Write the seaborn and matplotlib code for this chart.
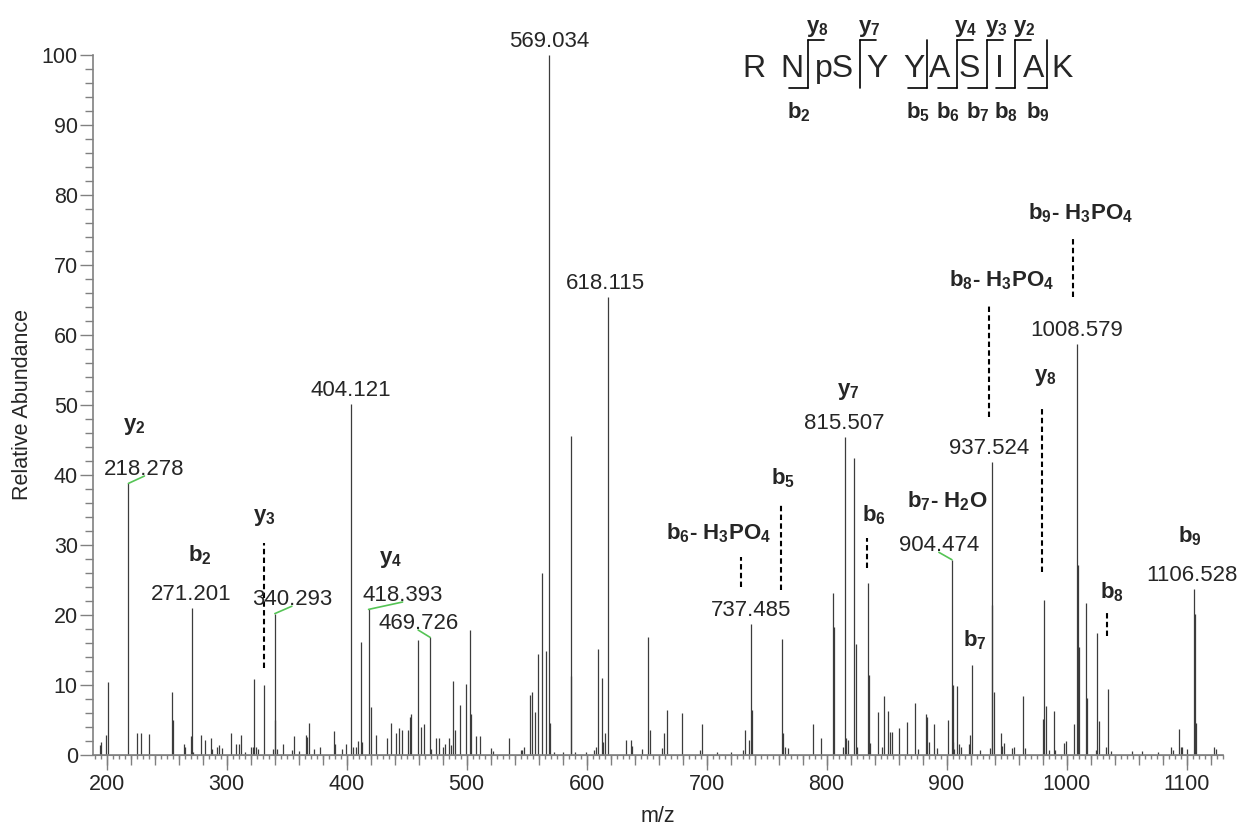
import numpy as np
import pandas as pd
import matplotlib
matplotlib.use('Agg')
import matplotlib.pyplot as plt
import matplotlib.transforms as mtransforms
from matplotlib.lines import Line2D
from matplotlib.ticker import MultipleLocator
import seaborn as sns

# centroided peak list
mz = [194.2, 195.6, 199.2, 201.1, 218.278, 225.5, 228.8, 235.8, 254.4, 255.6,
      264.2, 265.0, 270.2, 271.201, 272.0, 278.5, 282.0, 287.3, 287.8, 292.0,
      293.7, 296.0, 304.0, 307.6, 310.4, 311.8, 315.1, 320.4, 322.0, 323.2,
      324.9, 326.2, 331.2, 338.75, 340.293, 340.7, 342.1, 347.1, 354.3, 356.0,
      360.4, 366.0, 367.4, 368.8, 373.0, 378.2, 389.3, 390.7, 396.5, 399.9,
      404.121, 405.4, 408.2, 409.6, 411.8, 413.2, 418.393, 420.7, 424.3, 434.0,
      437.3, 441.5, 443.7, 446.5, 451.2, 452.7, 453.5, 459.8, 461.8, 464.6,
      469.726, 470.2, 474.3, 476.8, 480.4, 481.8, 485.4, 486.8, 488.8, 490.2,
      494.3, 499.3, 502.6, 504.0, 508.2, 511.5, 520.2, 522.0, 535.4, 545.6,
      546.4, 548.3, 552.8, 554.2, 557.1, 559.3, 562.7, 566.0, 569.034, 569.6,
      573.2, 580.2, 586.8, 587.2, 590.4, 599.3, 606.2, 607.9, 609.3, 612.6,
      614.0, 615.4, 618.115, 632.9, 636.8, 637.9, 646.0, 651.5, 652.9, 662.6,
      664.8, 666.8, 679.3, 694.6, 696.0, 708.5, 720.2, 730.7, 732.1, 735.2,
      737.485, 737.9, 762.9, 764.0, 765.4, 767.7, 788.5, 795.4, 805.1, 806.0,
      813.5, 815.507, 816.3, 818.2, 823.2, 824.4, 825.7, 834.4, 835.2, 836.2,
      843.2, 846.0, 848.2, 851.5, 852.9, 854.9, 860.4, 866.9, 874.0, 876.0,
      882.9, 884.0, 885.7, 889.6, 891.9, 901.5, 904.474, 905.0, 905.6, 906.3,
      908.9, 910.3, 912.2, 918.6, 919.4, 920.9, 928.3, 935.9, 937.524, 938.3,
      939.4, 945.0, 946.4, 948.3, 954.7, 956.1, 963.6, 965.8, 980.2, 981.1,
      982.5, 985.3, 989.4, 990.8, 997.8, 999.7, 1006.1, 1008.579, 1009.3, 1010.0,
      1016.4, 1017.2, 1024.6, 1025.6, 1026.9, 1033.0, 1034.2, 1036.7, 1054.7, 1063.0,
      1076.4, 1086.7, 1088.9, 1093.9, 1095.0, 1096.4, 1100.6, 1106.528, 1106.9, 1107.8,
      1123.3, 1124.9]
intensity = [1.5, 1.9, 2.8, 10.5, 38.8, 3.2, 3.2, 3.0, 9.0, 5.0,
             1.6, 1.1, 2.7, 21.0, 0.4, 2.9, 2.1, 2.5, 0.8, 1.1,
             1.5, 1.0, 3.2, 1.6, 1.6, 2.8, 0.4, 1.1, 1.1, 10.9,
             1.1, 0.9, 10.0, 0.8, 20.2, 5.0, 0.8, 1.6, 0.7, 2.7,
             0.6, 2.9, 2.6, 4.6, 0.8, 1.2, 3.4, 1.6, 0.8, 1.6,
             50.1, 1.1, 1.2, 2.0, 16.1, 1.9, 20.8, 6.9, 2.9, 2.4,
             4.6, 3.2, 3.8, 3.6, 3.6, 5.4, 5.8, 16.5, 4.0, 4.4,
             16.8, 0.8, 2.4, 2.5, 1.1, 1.6, 2.4, 1.4, 10.6, 3.6,
             7.1, 10.2, 17.8, 5.9, 2.7, 2.7, 1.0, 0.6, 2.5, 0.7,
             0.7, 1.1, 8.6, 9.0, 6.1, 14.5, 26.0, 14.8, 100.0, 4.6,
             0.5, 0.5, 45.6, 11.3, 0.5, 0.5, 0.7, 1.2, 15.2, 11.0,
             1.9, 3.2, 65.4, 2.1, 2.2, 1.3, 0.8, 16.9, 3.6, 1.0,
             3.1, 6.4, 6.0, 0.7, 4.4, 0.5, 0.5, 0.7, 3.6, 2.2,
             18.7, 6.5, 16.6, 3.1, 1.2, 1.0, 4.4, 2.5, 23.1, 18.3,
             1.2, 45.4, 2.4, 2.2, 42.5, 15.9, 1.2, 24.6, 11.4, 1.7,
             6.1, 1.2, 8.4, 6.3, 3.3, 3.3, 3.8, 4.7, 7.5, 0.9,
             5.8, 5.5, 1.9, 4.4, 1.0, 5.0, 27.9, 10.0, 1.9, 0.8,
             9.9, 1.6, 1.2, 1.6, 2.9, 12.9, 0.7, 1.0, 41.8, 21.4,
             9.0, 3.2, 1.3, 1.7, 1.0, 1.2, 8.5, 1.0, 5.2, 22.2,
             7.0, 0.7, 6.3, 0.7, 1.7, 2.0, 4.4, 58.7, 27.1, 15.5,
             21.7, 8.2, 0.7, 17.5, 4.9, 1.1, 9.4, 0.6, 0.6, 0.6,
             0.5, 1.2, 0.7, 3.7, 1.1, 1.1, 0.8, 23.7, 20.1, 4.6,
             1.1, 0.8]

# peaks that carry an m/z label, and the sideways shift of the label (px)
label_mz = [218.278, 271.201, 340.293, 404.121, 418.393, 469.726, 569.034,
            618.115, 737.485, 815.507, 904.474, 937.524, 1008.579, 1106.528]
label_shift = [16, -1, 17, -1, 34, -12, 0, -3, 0, -1, -13, -2, 0, -2]

# fragment ion annotations (text centre in data units)
ion_text = ['y$_2$', 'b$_2$', 'y$_3$', 'y$_4$', 'b$_6$- H$_3$PO$_4$', 'b$_5$',
            'y$_7$', 'b$_6$', 'b$_7$- H$_2$O', 'b$_7$', 'b$_8$- H$_3$PO$_4$',
            'b$_9$- H$_3$PO$_4$', 'y$_8$', 'b$_8$', 'b$_9$']
ion_x = [223.5, 277.7, 331.8, 437.1, 710.0, 764.0, 818.2, 839.6, 900.8,
         923.8, 946.2, 1012.0, 982.0, 1037.7, 1102.9]
ion_y = [46.9, 28.6, 33.9, 27.9, 31.7, 39.6, 51.9, 34.3, 36.2, 16.4, 67.9,
         77.4, 54.0, 23.2, 31.2]

# dashed ion markers: m/z, top, bottom
dash_mz = [331.3, 728.5, 762.0, 833.5, 935.2, 1005.4, 979.8, 1033.5]
dash_top = [30.3, 28.3, 35.9, 31.0, 64.1, 74.0, 49.9, 20.6]
dash_bottom = [12.4, 24.0, 23.6, 26.7, 48.3, 65.4, 26.1, 17.0]

# peptide sequence and observed cleavage sites
residues = ['R', 'N', 'pS', 'Y', 'Y', 'A', 'S', 'I', 'A', 'K']
b_sites = [2, 5, 6, 7, 8, 9]
y_sites = [8, 7, 4, 3, 2]

df = pd.DataFrame({'mz': mz, 'intensity': intensity})

sns.set_style('ticks')
plt.rcParams['font.family'] = ['Liberation Sans', 'DejaVu Sans']
plt.rcParams['mathtext.fontset'] = 'custom'
plt.rcParams['mathtext.rm'] = 'Liberation Sans:bold'
plt.rcParams['mathtext.it'] = 'Liberation Sans:bold'
plt.rcParams['mathtext.bf'] = 'Liberation Sans:bold'

W, H = 1248, 825
fig = plt.figure(figsize=(W / 100, H / 100), dpi=100)
ax = fig.add_axes([93 / W, 1 - 755 / H, 1130 / W, 700 / H])
px = mtransforms.Affine2D().scale(1 / W, -1 / H).translate(0, 1) + fig.transFigure

ax.vlines(df['mz'], 0, df['intensity'], color='#3c3c3c', lw=0.9)

ax.set_xlim(188.75, 1130.4)
ax.set_ylim(0, 100)
sns.despine(ax=ax)
grey = '#808080'
for s in ['left', 'bottom']:
    ax.spines[s].set_color(grey)
    ax.spines[s].set_linewidth(1.2)

ax.xaxis.set_major_locator(MultipleLocator(100))
ax.xaxis.set_minor_locator(MultipleLocator(5))
ax.yaxis.set_major_locator(MultipleLocator(10))
ax.yaxis.set_minor_locator(MultipleLocator(2))
ax.tick_params(axis='x', which='major', length=10.8, width=1, color=grey, pad=3, labelsize=15.5)
ax.tick_params(axis='x', which='minor', length=3.2, width=1, color=grey)
ax.tick_params(axis='y', which='major', length=9.4, width=1, color=grey, pad=1.5, labelsize=15.5)
ax.tick_params(axis='y', which='minor', length=5.8, width=1, color=grey)

# intermediate ticks every 20
sec = ax.secondary_xaxis('bottom')
sec.set_xticks(np.arange(200, 1140, 20))
sec.tick_params(length=7.2, width=1, color=grey, labelbottom=False)
sec.spines['bottom'].set_color(grey)

ax.set_xlabel('m/z', fontsize=15.5, labelpad=8)
ax.set_ylabel('Relative Abundance', fontsize=15.5, labelpad=6)

green = '#55c455'
for m, sh in zip(label_mz, label_shift):
    h = df['intensity'].iloc[(df['mz'] - m).abs().idxmin()]
    arrow = None
    if abs(sh) > 5:
        arrow = dict(arrowstyle='-', color=green, lw=1.2, shrinkA=0, shrinkB=0,
                     patchA=None, relpos=(0.5, 0.19))
    ax.annotate(f'{m:.3f}', xy=(m, h), xytext=(sh * 0.72, 10), textcoords='offset points',
                ha='center', va='center', fontsize=16, annotation_clip=False, arrowprops=arrow)

for t, x, y in zip(ion_text, ion_x, ion_y):
    ax.text(x, y, t, ha='center', va='center', fontsize=16, fontweight='bold', clip_on=False)

ax.vlines(dash_mz, dash_bottom, dash_top, color='black', lw=1.5, linestyles=(0, (2.6, 1.6)))

# peptide sequence with fragment brackets (pixel layout)
res_x = [754, 792, 835, 877, 914, 940, 969, 999, 1034, 1062]
cut_x = {2: 808, 3: 860, 5: 927, 6: 957, 7: 987, 8: 1015, 9: 1047}
for r, x in zip(residues, res_x):
    fig.text(x, 77, r, transform=px, ha='center', va='baseline', fontsize=23)
n = len(residues)
for i, x in cut_x.items():
    fig.add_artist(Line2D([x, x], [40, 88], transform=px, color='black', lw=1.2))
    if i in b_sites:
        fig.add_artist(Line2D([x - 19, x], [88, 88], transform=px, color='black', lw=1.2))
        fig.text(x - 9, 118, f'b$_{i}$', transform=px, ha='center', va='baseline',
                 fontsize=16, fontweight='bold')
    if n - i in y_sites:
        fig.add_artist(Line2D([x, x + 16], [40, 40], transform=px, color='black', lw=1.2))
        fig.text(x + 9, 32, f'y$_{n - i}$', transform=px, ha='center', va='baseline',
                 fontsize=16, fontweight='bold')

fig.savefig('out.png', dpi=100)
